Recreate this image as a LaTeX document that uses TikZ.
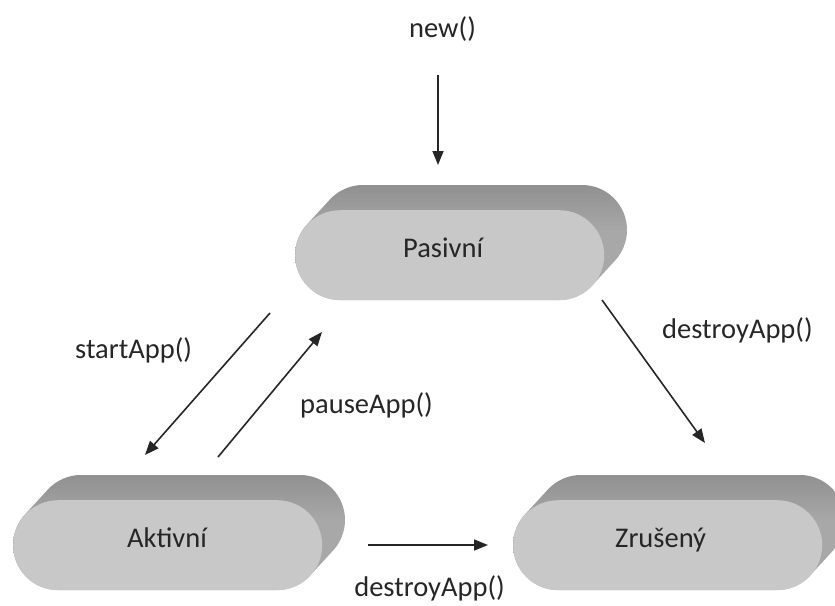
\documentclass[tikz,border=0pt]{standalone}
\usepackage{fontspec}
\setmainfont{Carlito}
\usetikzlibrary{arrows.meta,fadings}

% colours of the extruded state boxes
\definecolor{facegray}{HTML}{C8C8C8}
\definecolor{sidegray}{HTML}{A8A8A8}
\definecolor{sidelight}{HTML}{F4F4F4}
\definecolor{sideedge}{HTML}{E4E4E4}
\definecolor{inkgray}{HTML}{262626}

% side surfaces: grey on top, fading to white round the right end
\pgfdeclarehorizontalshading{pillside}{100bp}{%
  color(0bp)=(sidegray); color(76bp)=(sidegray);
  color(95bp)=(sidelight); color(100bp)=(sideedge)}

\tikzset{
  face/.style={fill=facegray, draw=none, rounded corners=45pt,
    minimum width=309pt, minimum height=90pt, inner sep=0pt},
  lbl/.style={text=inkgray, inner sep=0pt,
    font=\fontsize{28.5}{34}\selectfont},
  flow/.style={draw=inkgray, line width=1.6pt,
    -{Triangle[length=14pt,width=11pt]}}
}

% extruded pill: #1 name, #2 left edge, #3 top edge of the front face.
% The body is the front stadium (radius 45) swept back by (23,-25);
% 42.6 is the angle of the normal to that sweep direction.
\newcommand\statepill[3]{%
  \begin{scope}
    \path[clip]
      (#2+45, #3+90) arc[start angle=90, end angle=222.6, radius=45]
      -- ++(23,-25) arc[start angle=222.6, end angle=270, radius=45]
      -- ++(219,0) arc[start angle=270, end angle=402.6, radius=45]
      -- ++(-23,25) arc[start angle=42.6, end angle=90, radius=45]
      -- cycle;
    \shade[shading=pillside] (#2-1, #3-26) rectangle (#2+334, #3+91);
    % slight darkening towards the back edge
    \fill[black, fill opacity=0.14, path fading=south]
      (#2-1, #3-26) rectangle (#2+334, #3+20);
  \end{scope}
  \node[face, anchor=north west] (#1) at (#2,#3) {};
}

\begin{document}
\begin{tikzpicture}[x=1pt, y=-1pt]
  \useasboundingbox (0,0) rectangle (835,605);

  % states
  \statepill{pas}{295}{210}
  \statepill{akt}{13}{500}
  \statepill{zru}{513}{500}

  \node[lbl, anchor=base west] (tpas) at (403,257) {Pasivní};
  \node[lbl, anchor=base west] (takt) at (127,547) {Aktivní};
  \node[lbl, anchor=base west] (tzru) at (615,547) {Zrušený};

  % transition end points
  \coordinate (n0) at (438,75);   \coordinate (n1) at (438,165);
  \coordinate (s0) at (270,313);  \coordinate (s1) at (145,455);
  \coordinate (p0) at (218,457);  \coordinate (p1) at (322,332);
  \coordinate (d0) at (602,300);  \coordinate (d1) at (705,443);
  \coordinate (e0) at (368,545);  \coordinate (e1) at (488,545);

  \draw[flow] (n0) -- (n1);
  \draw[flow] (s0) -- (s1);
  \draw[flow] (p0) -- (p1);
  \draw[flow] (d0) -- (d1);
  \draw[flow] (e0) -- (e1);

  % transition labels
  \node[lbl, anchor=base west] (lnew)   at (409,37)  {new()};
  \node[lbl, anchor=base west] (lstart) at (75,358)  {startApp()};
  \node[lbl, anchor=base west] (lpause) at (300,413) {pauseApp()};
  \node[lbl, anchor=base west] (ldes1)  at (662,338) {destroyApp()};
  \node[lbl, anchor=base east] (ldes2)  at (505,596) {destroyApp()};
\end{tikzpicture}
\end{document}
